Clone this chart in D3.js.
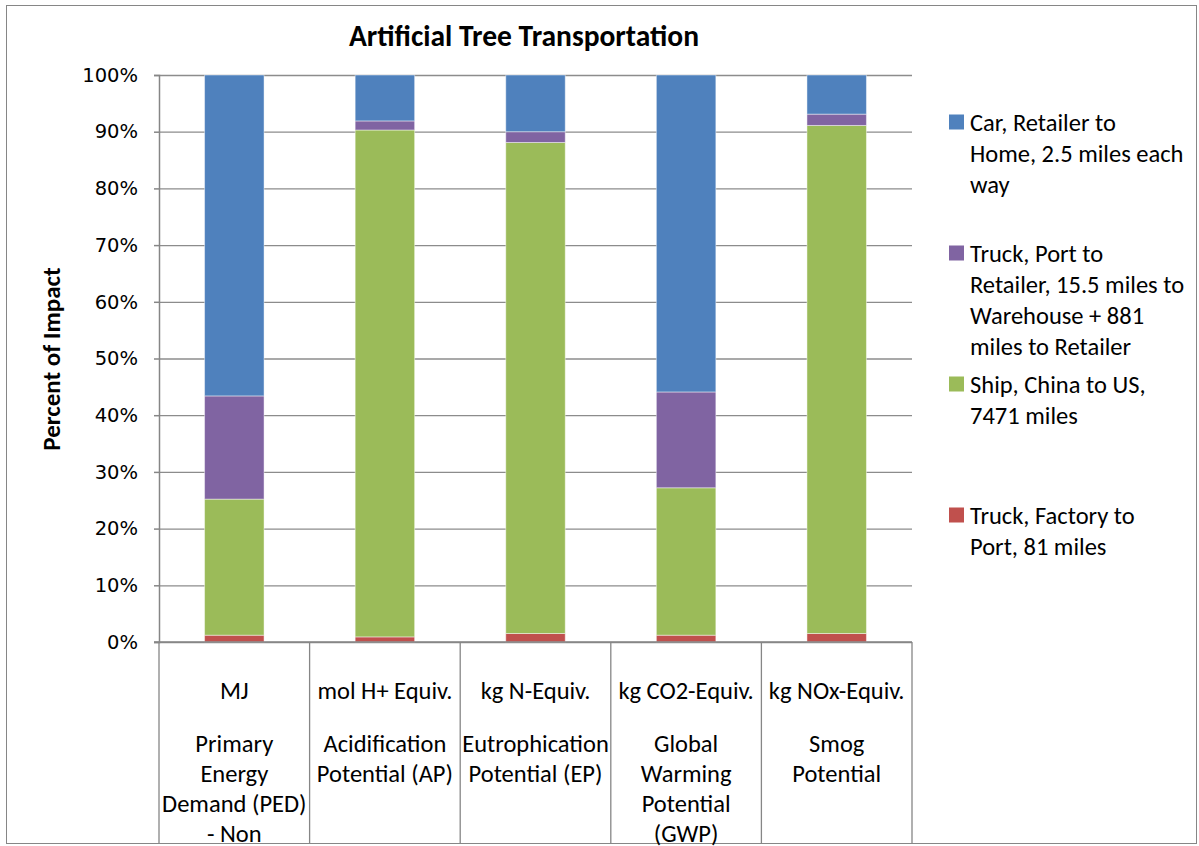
<!DOCTYPE html>
<html>
<head>
<meta charset="utf-8">
<script src="https://cdn.jsdelivr.net/npm/d3@7"></script>
<style>
  body { margin: 0; background: #fff; }
  svg text { fill: #000; }
</style>
</head>
<body>
<div id="chart"></div>
<script>
// Data (percent of impact per category)
var units = ["MJ", "mol H+ Equiv.", "kg N-Equiv.", "kg CO2-Equiv.", "kg NOx-Equiv."];
var names = [
    ["Primary", "Energy", "Demand (PED)", "- Non"],
    ["Acidification", "Potential (AP)"],
    ["Eutrophication", "Potential (EP)"],
    ["Global", "Warming", "Potential", "(GWP)"],
    ["Smog", "Potential"]
];
var truckFactory = [1.2, 0.9, 1.5, 1.2, 1.5];
var ship = [24.0, 89.4, 86.6, 26.0, 89.6];
var truckPort = [18.2, 1.6, 1.9, 16.9, 2.0];
var car = [56.6, 8.1, 10.0, 55.9, 6.9];
var yTicks = [0, 10, 20, 30, 40, 50, 60, 70, 80, 90, 100];

var keys = ["truckFactory", "ship", "truckPort", "car"];
var colors = { truckFactory: "#C0504D", ship: "#9BBB59", truckPort: "#8064A2", car: "#4F81BD" };

var rows = units.map((u, i) => ({
    i: i,
    truckFactory: truckFactory[i],
    ship: ship[i],
    truckPort: truckPort[i],
    car: car[i]
}));

var W = 1199, H = 846;
var svg = d3.select("#chart").append("svg")
    .attr("width", W)
    .attr("height", H);

// chart border
svg.append("rect")
    .attr("x", 6.5).attr("y", 5.5)
    .attr("width", 1190).attr("height", 838)
    .attr("fill", "#fff")
    .attr("stroke", "#868686");

var x0 = 159, x1 = 912;
var xScale = d3.scaleBand()
    .domain(d3.range(units.length))
    .range([x0, x1])
    .paddingInner(0.605)
    .paddingOuter(0.3025);

var yScale = d3.scaleLinear()
    .domain([0, 100])
    .range([642, 75]);

// gridlines
var grid = svg.append("g")
    .attr("transform", "translate(" + x0 + ",0)")
    .call(d3.axisLeft(yScale).tickValues(yTicks).tickSize(-(x1 - x0)).tickFormat(""));
grid.select(".domain").remove();
grid.selectAll("line").attr("stroke", "#8c8c8c").attr("stroke-width", 1.3);

// stacked bars
var stack = d3.stack().keys(keys);
var layers = stack(rows);

svg.selectAll("g.layer")
    .data(layers)
    .enter().append("g")
    .attr("class", "layer")
    .attr("fill", d => colors[d.key])
    .selectAll("rect")
    .data(d => d)
    .enter().append("rect")
    .attr("x", d => xScale(d.data.i))
    .attr("y", d => yScale(d[1]))
    .attr("width", xScale.bandwidth())
    .attr("height", d => yScale(d[0]) - yScale(d[1]))
    .attr("stroke", "#ffffff")
    .attr("stroke-opacity", 0.45)
    .attr("stroke-width", 1);

// y axis
var yAxis = svg.append("g")
    .attr("transform", "translate(" + x0 + ",0)")
    .call(d3.axisLeft(yScale).tickValues(yTicks).tickFormat(d => d + "%").tickSize(5).tickPadding(16));
yAxis.selectAll("path, line").attr("stroke", "#868686").attr("stroke-width", 1.5);
yAxis.selectAll("text")
    .style("font-family", "'DejaVu Sans', Verdana, sans-serif")
    .style("font-size", "19.5px")
    .attr("fill", "#000");

// x axis baseline
svg.append("line")
    .attr("x1", x0 - 5).attr("x2", x1)
    .attr("y1", yScale(0)).attr("y2", yScale(0))
    .attr("stroke", "#868686").attr("stroke-width", 1.5);

// category dividers (multi-level labels)
var step = xScale.step();
svg.selectAll("line.divider")
    .data(d3.range(units.length + 1))
    .enter().append("line")
    .attr("class", "divider")
    .attr("x1", d => x0 + d * step).attr("x2", d => x0 + d * step)
    .attr("y1", yScale(0)).attr("y2", 843)
    .attr("stroke", "#868686").attr("stroke-width", 1.3);

var labelFont = "Carlito, Calibri, Lato, sans-serif";
var catG = svg.selectAll("g.cat")
    .data(units)
    .enter().append("g")
    .attr("class", "cat")
    .attr("transform", (d, i) => "translate(" + (xScale(i) + xScale.bandwidth() / 2) + ",0)");

catG.append("text")
    .attr("y", 690)
    .attr("dy", "0.35em")
    .attr("text-anchor", "middle")
    .style("font-family", labelFont)
    .style("font-size", "24.5px")
    .text(d => d);

catG.each(function(d, i) {
    d3.select(this).selectAll("text.name")
        .data(names[i])
        .enter().append("text")
        .attr("class", "name")
        .attr("y", (t, j) => 743 + j * 30)
        .attr("dy", "0.35em")
        .attr("text-anchor", "middle")
        .style("font-family", labelFont)
        .style("font-size", "24.5px")
        .text(t => t);
});

// title
svg.append("text")
    .attr("x", 524)
    .attr("y", 36)
    .attr("dy", "0.35em")
    .attr("text-anchor", "middle")
    .style("font-family", labelFont)
    .style("font-size", "29.5px")
    .style("font-weight", "bold")
    .text("Artificial Tree Transportation");

// y axis title
svg.append("text")
    .attr("transform", "translate(51,359) rotate(-90)")
    .attr("dy", "0.35em")
    .attr("text-anchor", "middle")
    .style("font-family", labelFont)
    .style("font-size", "25px")
    .style("font-weight", "bold")
    .text("Percent of Impact");

// legend
var legendRows = [
    { key: "car", y: 122, lines: ["Car, Retailer to", "Home, 2.5 miles each", "way"] },
    { key: "truckPort", y: 253, lines: ["Truck, Port to", "Retailer, 15.5 miles to", "Warehouse + 881", "miles to Retailer"] },
    { key: "ship", y: 384, lines: ["Ship, China to US,", "7471 miles"] },
    { key: "truckFactory", y: 515, lines: ["Truck, Factory to", "Port, 81 miles"] }
];

var legend = svg.selectAll(".legend")
    .data(legendRows)
    .enter().append("g")
    .attr("class", "legend")
    .attr("transform", d => "translate(949," + d.y + ")");

legend.append("rect")
    .attr("x", 0)
    .attr("y", -7.5)
    .attr("width", 15)
    .attr("height", 15)
    .attr("fill", d => colors[d.key]);

legend.each(function(d) {
    d3.select(this).selectAll("text")
        .data(d.lines)
        .enter().append("text")
        .attr("x", 21)
        .attr("y", (t, j) => j * 31)
        .attr("dy", "0.35em")
        .style("font-family", labelFont)
        .style("font-size", "24.5px")
        .text(t => t);
});
</script>
</body>
</html>
